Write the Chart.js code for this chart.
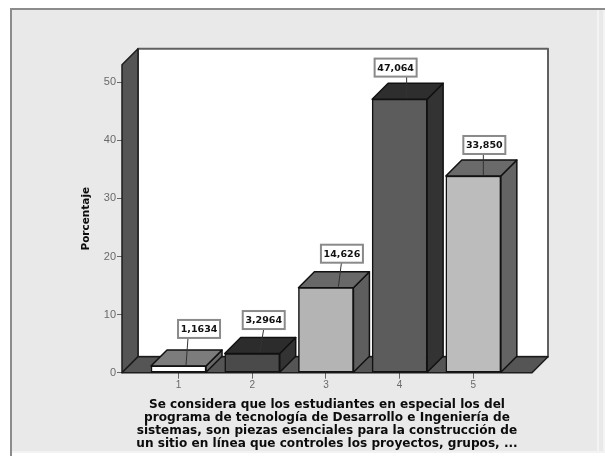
<!DOCTYPE html>
<html lang="es">
<head>
<meta charset="utf-8">
<title>Porcentaje</title>
<style>
  html, body { margin: 0; padding: 0; background: #fff; }
  canvas { display: block; }
</style>
<script src="https://cdn.jsdelivr.net/npm/chart.js@4"></script>
</head>
<body>
<canvas id="chart" width="605" height="456"></canvas>
<script>
// Response categories and their share of answers
const categories = [1, 2, 3, 4, 5];
const percentages = [1.1634, 3.2964, 14.626, 47.064, 33.850];
const yTickValues = [0, 10, 20, 30, 40, 50];
const axisTitleY = 'Porcentaje';
const axisTitleX = [
  'Se considera que los estudiantes en especial los del',
  'programa de tecnología de Desarrollo e Ingeniería de',
  'sistemas, son piezas esenciales para la construcción de',
  'un sitio en línea que controles los proyectos, grupos, ...'
];

// Face shades of each bar
const frontColors = ['#ffffff', '#4a4a4a', '#b4b4b4', '#5c5c5c', '#bcbcbc'];
const topColors = ['#7c7c7c', '#2c2c2c', '#686868', '#2e2e2e', '#6a6a6a'];
const sideColors = ['#686868', '#333333', '#5e5e5e', '#333333', '#646464'];

// Callout placement relative to the top centre of each bar's front face
const calloutBoxDx = [20.5, 11.5, 16, -4, 11];
const calloutBoxDy = [-37, -33.5, -34, -31.6, -31];
const leaderTopDx = [9.5, 11.5, 15.5, 7, 10];
const leaderTipDx = [7.5, 7.5, 12.5, 7, 10];

const DEPTH = 16;
const WALL = '#555555';
const EDGE = '#1c1c1c';

function polygon(ctx, points, fill, stroke, width) {
  ctx.beginPath();
  points.forEach((p, i) => (i ? ctx.lineTo(p[0], p[1]) : ctx.moveTo(p[0], p[1])));
  ctx.closePath();
  ctx.fillStyle = fill;
  ctx.fill();
  ctx.strokeStyle = stroke;
  ctx.lineWidth = width;
  ctx.stroke();
}

// Grey panel behind the whole chart
const panelPlugin = {
  id: 'panel',
  beforeDraw(chart) {
    const ctx = chart.ctx;
    ctx.save();
    ctx.fillStyle = '#e9e9e9';
    ctx.fillRect(11, 9, 594, 443);
    ctx.fillStyle = '#f3f3f3';
    ctx.fillRect(597, 9, 2, 443);
    ctx.fillRect(603, 9, 2, 443);
    ctx.fillRect(11, 451, 594, 2);
    ctx.fillStyle = '#8c8c8c';
    ctx.fillRect(10, 8, 595, 2);
    ctx.fillRect(10, 8, 2, 448);
    ctx.restore();
  }
};

// Box walls, floor and the depth faces of every bar
const depthPlugin = {
  id: 'depth',
  beforeDatasetsDraw(chart) {
    const ctx = chart.ctx;
    const { left: l, right: r, top: t, bottom: b } = chart.chartArea;
    ctx.save();
    ctx.lineJoin = 'round';
    polygon(ctx, [[l + DEPTH, t - DEPTH], [r + DEPTH, t - DEPTH], [r + DEPTH, b - DEPTH], [l + DEPTH, b - DEPTH]], '#ffffff', '#606060', 2);
    polygon(ctx, [[l, t], [l + DEPTH, t - DEPTH], [l + DEPTH, b - DEPTH], [l, b]], WALL, EDGE, 1.5);
    polygon(ctx, [[l, b], [l + DEPTH, b - DEPTH], [r + DEPTH, b - DEPTH], [r, b]], WALL, EDGE, 1.5);
    chart.getDatasetMeta(0).data.forEach((bar, i) => {
      const x0 = bar.x - bar.width / 2;
      const x1 = bar.x + bar.width / 2;
      polygon(ctx, [[x1, bar.y], [x1 + DEPTH, bar.y - DEPTH], [x1 + DEPTH, bar.base - DEPTH], [x1, bar.base]], sideColors[i], '#111111', 1.5);
      polygon(ctx, [[x0, bar.y], [x0 + DEPTH, bar.y - DEPTH], [x1 + DEPTH, bar.y - DEPTH], [x1, bar.y]], topColors[i], '#111111', 1.5);
    });
    ctx.restore();
  },
  // Value callouts with their leader lines
  afterDatasetsDraw(chart) {
    const ctx = chart.ctx;
    ctx.save();
    chart.getDatasetMeta(0).data.forEach((bar, i) => {
      const text = percentages[i].toPrecision(5).replace('.', ',');
      const cx = bar.x + calloutBoxDx[i];
      const cy = bar.y + calloutBoxDy[i];
      const w = 42, h = 18;
      ctx.strokeStyle = '#333333';
      ctx.lineWidth = 1;
      ctx.beginPath();
      ctx.moveTo(bar.x + leaderTipDx[i], bar.y - 1);
      ctx.lineTo(bar.x + leaderTopDx[i], cy + h / 2);
      ctx.stroke();
      ctx.fillStyle = '#ffffff';
      ctx.fillRect(cx - w / 2, cy - h / 2, w, h);
      ctx.strokeStyle = '#8a8a8a';
      ctx.lineWidth = 2;
      ctx.strokeRect(cx - w / 2, cy - h / 2, w, h);
      ctx.fillStyle = '#111111';
      ctx.font = 'bold 9.5px "DejaVu Sans", sans-serif';
      ctx.textAlign = 'center';
      ctx.textBaseline = 'middle';
      ctx.fillText(text, cx, cy + 0.5);
    });
    ctx.restore();
  }
};

new Chart(document.getElementById('chart'), {
  type: 'bar',
  data: {
    datasets: [{
      data: categories.map((c, i) => ({ x: c, y: percentages[i] })),
      backgroundColor: frontColors,
      borderColor: '#111111',
      borderWidth: 1.5,
      borderSkipped: false,
      barThickness: 55
    }]
  },
  plugins: [panelPlugin, depthPlugin],
  options: {
    responsive: false,
    animation: false,
    layout: { padding: { top: 64.7, right: 73, bottom: 0, left: 0 } },
    plugins: { legend: { display: false }, tooltip: { enabled: false } },
    scales: {
      x: {
        type: 'linear',
        min: 0.233,
        max: 5.796,
        offset: false,
        afterBuildTicks(scale) { scale.ticks = categories.map(value => ({ value })); },
        afterFit(scale) { scale.height = 83.3; },
        grid: { display: true, offset: false, drawOnChartArea: false, drawTicks: true, tickLength: 6, color: '#666666' },
        border: { display: false },
        ticks: {
          autoSkip: false,
          maxRotation: 0,
          padding: 1,
          color: '#6a6a6a',
          font: { family: '"Liberation Sans", Arial, sans-serif', size: 10 },
          callback: value => String(value)
        },
        title: {
          display: true,
          text: axisTitleX,
          color: '#0c0c0c',
          padding: { top: 0, bottom: 5.5 },
          font: { family: '"DejaVu Sans", sans-serif', size: 12.1, weight: 'bold', lineHeight: '13px' }
        }
      },
      y: {
        min: 0,
        max: 53,
        afterBuildTicks(scale) { scale.ticks = yTickValues.map(value => ({ value })); },
        afterFit(scale) { scale.width = 122; },
        grid: { display: true, drawOnChartArea: false, drawTicks: true, tickLength: 5, color: '#666666' },
        border: { display: false },
        ticks: {
          padding: 1,
          color: '#6a6a6a',
          font: { family: '"Liberation Sans", Arial, sans-serif', size: 11 }
        },
        title: {
          display: true,
          text: axisTitleY,
          color: '#0c0c0c',
          padding: { top: 80, bottom: 0 },
          font: { family: '"DejaVu Sans", sans-serif', size: 10.5, weight: 'bold' }
        }
      }
    }
  }
});
</script>
</body>
</html>
